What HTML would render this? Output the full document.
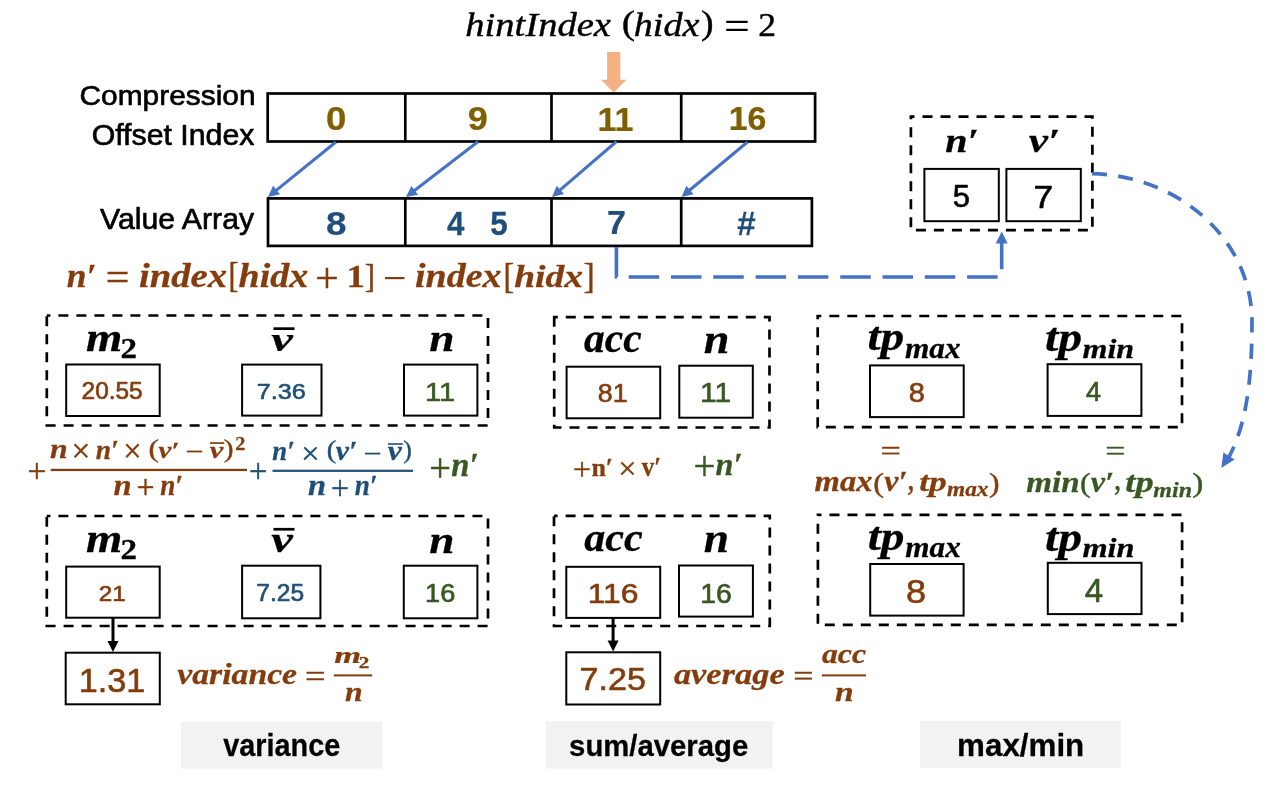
<!DOCTYPE html>
<html><head><meta charset="utf-8"><title>diagram</title>
<style>html,body{margin:0;padding:0;background:#fff;}body{width:1269px;height:800px;overflow:hidden;font-family:"Liberation Sans",sans-serif;}svg{display:block;will-change:transform;}</style>
</head><body>
<svg width="1269" height="800" viewBox="0 0 1269 800">
<text font-family="'Liberation Serif', serif" font-style="italic" stroke="#000000" stroke-width="1.252" stroke-linejoin="round" font-size="100" fill="#000000" transform="matrix(0.38594 0 0 0.33309 465.27 35.67)">hintIndex</text>
<text font-family="'Liberation Serif', serif" stroke="#000000" stroke-width="1.222" stroke-linejoin="round" font-size="100" fill="#000000" transform="matrix(0.39804 0 0 0.33833 621.73 33.67)">(</text>
<text font-family="'Liberation Serif', serif" font-style="italic" stroke="#000000" stroke-width="1.260" stroke-linejoin="round" font-size="100" fill="#000000" transform="matrix(0.38125 0 0 0.33309 633.79 35.77)">hidx</text>
<text font-family="'Liberation Serif', serif" stroke="#000000" stroke-width="1.255" stroke-linejoin="round" font-size="100" fill="#000000" transform="matrix(0.37885 0 0 0.33833 700.99 33.67)">)</text>
<text font-family="'Liberation Serif', serif" stroke="#000000" stroke-width="1.093" stroke-linejoin="round" font-size="100" fill="#000000" transform="matrix(0.44624 0 0 0.37755 724.19 38.80)">=</text>
<text font-family="'Liberation Serif', serif" stroke="#000000" stroke-width="1.295" stroke-linejoin="round" font-size="100" fill="#000000" transform="matrix(0.35625 0 0 0.33864 758.32 35.98)">2</text>
<polygon points="607.1,51.9 620.3,51.9 620.3,79.7 626.5,79.7 613.7,92.5 601,79.7 607.1,79.7" fill="#F4B183"/>
<text font-family="'Liberation Sans', sans-serif" stroke="#000000" stroke-width="2.227" stroke-linejoin="round" font-size="100" fill="#000000" transform="matrix(0.29879 0 0 0.28500 79.53 104.58)">Compression</text>
<text font-family="'Liberation Sans', sans-serif" stroke="#000000" stroke-width="2.169" stroke-linejoin="round" font-size="100" fill="#000000" transform="matrix(0.30301 0 0 0.29643 91.66 144.78)">Offset Index</text>
<text font-family="'Liberation Sans', sans-serif" stroke="#000000" stroke-width="2.143" stroke-linejoin="round" font-size="100" fill="#000000" transform="matrix(0.30236 0 0 0.30438 100.07 228.98)">Value Array</text>
<rect x="267.70" y="93.50" width="547.40" height="48.00" fill="none" stroke="#000000" stroke-width="2.70"/>
<line x1="405.30" y1="93.50" x2="405.30" y2="141.50" stroke="#000000" stroke-width="2.70"/>
<line x1="551.50" y1="93.50" x2="551.50" y2="141.50" stroke="#000000" stroke-width="2.70"/>
<line x1="681.20" y1="93.50" x2="681.20" y2="141.50" stroke="#000000" stroke-width="2.70"/>
<rect x="268.00" y="198.40" width="543.90" height="47.50" fill="none" stroke="#000000" stroke-width="2.70"/>
<line x1="405.30" y1="198.40" x2="405.30" y2="245.90" stroke="#000000" stroke-width="2.70"/>
<line x1="551.50" y1="198.40" x2="551.50" y2="245.90" stroke="#000000" stroke-width="2.70"/>
<line x1="681.20" y1="198.40" x2="681.20" y2="245.90" stroke="#000000" stroke-width="2.70"/>
<text font-family="'Liberation Sans', sans-serif" font-weight="bold" stroke="#7F6000" stroke-width="0.712" stroke-linejoin="round" font-size="100" fill="#7F6000" transform="matrix(0.36526 0 0 0.33732 326.06 130.44)">0</text>
<text font-family="'Liberation Sans', sans-serif" font-weight="bold" stroke="#7F6000" stroke-width="0.729" stroke-linejoin="round" font-size="100" fill="#7F6000" transform="matrix(0.35979 0 0 0.32606 467.87 130.25)">9</text>
<text font-family="'Liberation Sans', sans-serif" font-weight="bold" stroke="#7F6000" stroke-width="0.737" stroke-linejoin="round" font-size="100" fill="#7F6000" transform="matrix(0.34041 0 0 0.33796 597.51 130.57)">11</text>
<text font-family="'Liberation Sans', sans-serif" font-weight="bold" stroke="#7F6000" stroke-width="0.753" stroke-linejoin="round" font-size="100" fill="#7F6000" transform="matrix(0.33812 0 0 0.32606 728.73 130.25)">16</text>
<text font-family="'Liberation Sans', sans-serif" font-weight="bold" stroke="#1F4E79" stroke-width="0.721" stroke-linejoin="round" font-size="100" fill="#1F4E79" transform="matrix(0.36869 0 0 0.32465 326.02 234.75)">8</text>
<text font-family="'Liberation Sans', sans-serif" font-weight="bold" stroke="#1F4E79" stroke-width="0.770" stroke-linejoin="round" font-size="100" fill="#1F4E79" transform="matrix(0.31308 0 0 0.33650 447.06 235.07)">4</text>
<text font-family="'Liberation Sans', sans-serif" font-weight="bold" stroke="#1F4E79" stroke-width="0.776" stroke-linejoin="round" font-size="100" fill="#1F4E79" transform="matrix(0.31300 0 0 0.33165 490.19 234.74)">5</text>
<text font-family="'Liberation Sans', sans-serif" font-weight="bold" stroke="#1F4E79" stroke-width="0.751" stroke-linejoin="round" font-size="100" fill="#1F4E79" transform="matrix(0.34086 0 0 0.32482 607.09 234.38)">7</text>
<text font-family="'Liberation Sans', sans-serif" font-weight="bold" stroke="#1F4E79" stroke-width="0.754" stroke-linejoin="round" font-size="100" fill="#1F4E79" transform="matrix(0.33048 0 0 0.33309 737.23 234.68)">#</text>
<line x1="335.90" y1="142.00" x2="273.13" y2="192.85" stroke="#4472C4" stroke-width="3.00"/>
<polygon points="268.00,197.00 273.09,185.80 280.01,194.35" fill="#4472C4"/>
<line x1="478.20" y1="141.50" x2="411.23" y2="192.98" stroke="#4472C4" stroke-width="3.00"/>
<polygon points="406.00,197.00 411.37,185.94 418.07,194.66" fill="#4472C4"/>
<line x1="616.50" y1="141.50" x2="557.00" y2="192.70" stroke="#4472C4" stroke-width="3.00"/>
<polygon points="552.00,197.00 556.75,185.66 563.93,193.99" fill="#4472C4"/>
<line x1="747.50" y1="142.00" x2="686.57" y2="192.77" stroke="#4472C4" stroke-width="3.00"/>
<polygon points="681.50,197.00 686.43,185.73 693.47,194.18" fill="#4472C4"/>
<text font-family="'Liberation Serif', serif" font-weight="bold" font-style="italic" stroke="#843C0C" stroke-width="0.864" stroke-linejoin="round" font-size="100" fill="#843C0C" transform="matrix(0.35425 0 0 0.34043 66.84 286.95)">n′</text>
<text font-family="'Liberation Serif', serif" stroke="#843C0C" stroke-width="1.097" stroke-linejoin="round" font-size="100" fill="#843C0C" transform="matrix(0.41828 0 0 0.40204 105.63 291.42)">=</text>
<text font-family="'Liberation Serif', serif" font-weight="bold" font-style="italic" stroke="#843C0C" stroke-width="0.829" stroke-linejoin="round" font-size="100" fill="#843C0C" transform="matrix(0.38700 0 0 0.33696 138.88 286.85)">index</text>
<text font-family="'Liberation Serif', serif" stroke="#843C0C" stroke-width="1.382" stroke-linejoin="round" font-size="100" fill="#843C0C" transform="matrix(0.30227 0 0 0.34880 228.56 287.47)">[</text>
<text font-family="'Liberation Serif', serif" font-weight="bold" font-style="italic" stroke="#843C0C" stroke-width="0.844" stroke-linejoin="round" font-size="100" fill="#843C0C" transform="matrix(0.38045 0 0 0.33043 238.49 286.85)">hidx</text>
<text font-family="'Liberation Serif', serif" stroke="#843C0C" stroke-width="1.070" stroke-linejoin="round" font-size="100" fill="#843C0C" transform="matrix(0.41613 0 0 0.42473 315.14 292.32)">+</text>
<text font-family="'Liberation Serif', serif" font-weight="bold" stroke="#843C0C" stroke-width="0.873" stroke-linejoin="round" font-size="100" fill="#843C0C" transform="matrix(0.36757 0 0 0.31970 346.41 287.45)">1</text>
<text font-family="'Liberation Serif', serif" stroke="#843C0C" stroke-width="1.388" stroke-linejoin="round" font-size="100" fill="#843C0C" transform="matrix(0.30444 0 0 0.34398 364.76 287.43)">]</text>
<rect x="385.10" y="277.00" width="19.30" height="2.20" fill="#843C0C"/>
<text font-family="'Liberation Serif', serif" font-weight="bold" font-style="italic" stroke="#843C0C" stroke-width="0.842" stroke-linejoin="round" font-size="100" fill="#843C0C" transform="matrix(0.37982 0 0 0.33261 415.00 286.65)">index</text>
<text font-family="'Liberation Serif', serif" stroke="#843C0C" stroke-width="1.347" stroke-linejoin="round" font-size="100" fill="#843C0C" transform="matrix(0.32045 0 0 0.34759 503.62 288.08)">[</text>
<text font-family="'Liberation Serif', serif" font-weight="bold" font-style="italic" stroke="#843C0C" stroke-width="0.856" stroke-linejoin="round" font-size="100" fill="#843C0C" transform="matrix(0.37486 0 0 0.32609 514.20 286.65)">hidx</text>
<text font-family="'Liberation Serif', serif" stroke="#843C0C" stroke-width="1.317" stroke-linejoin="round" font-size="100" fill="#843C0C" transform="matrix(0.33556 0 0 0.34759 583.45 288.08)">]</text>
<path d="M616.4,247 V277 H1001.7 V243" fill="none" stroke="#4472C4" stroke-width="3.6" stroke-dasharray="30.5 11.8"/>
<polygon points="1001.7,231.5 1007.7,243.5 995.7,243.5" fill="#4472C4"/>
<rect x="910.90" y="116.60" width="181.50" height="113.60" fill="none" stroke="#000" stroke-width="2.70" stroke-dasharray="10 8" stroke-dashoffset="6.4"/>
<rect x="924.40" y="168.90" width="74.40" height="52.30" fill="none" stroke="#000000" stroke-width="2.00"/>
<rect x="1006.40" y="168.90" width="74.40" height="52.30" fill="none" stroke="#000000" stroke-width="2.00"/>
<text font-family="'Liberation Serif', serif" font-weight="bold" font-style="italic" stroke="#000000" stroke-width="0.813" stroke-linejoin="round" font-size="100" fill="#000000" transform="matrix(0.40000 0 0 0.33830 945.15 151.65)">n′</text>
<text font-family="'Liberation Serif', serif" font-weight="bold" font-style="italic" stroke="#000000" stroke-width="0.769" stroke-linejoin="round" font-size="100" fill="#000000" transform="matrix(0.43459 0 0 0.34565 1028.72 151.65)">v′</text>
<text font-family="'Liberation Sans', sans-serif" stroke="#000000" stroke-width="2.076" stroke-linejoin="round" font-size="100" fill="#000000" transform="matrix(0.31053 0 0 0.31583 952.78 207.46)">5</text>
<text font-family="'Liberation Sans', sans-serif" stroke="#000000" stroke-width="1.952" stroke-linejoin="round" font-size="100" fill="#000000" transform="matrix(0.35275 0 0 0.31314 1033.46 207.78)">7</text>
<path d="M1092,173.6 C1180,176 1252,240 1252,322 C1252,390 1244,428 1229,457" fill="none" stroke="#4472C4" stroke-width="3.7" stroke-dasharray="15 11.3"/>
<polygon points="1221.3,467.9 1223.4,452.6 1234.6,459.5" fill="#4472C4"/>
<rect x="46.80" y="315.50" width="441.20" height="110.00" fill="none" stroke="#000" stroke-width="2.70" stroke-dasharray="10 8" stroke-dashoffset="6.4"/>
<rect x="46.80" y="516.00" width="441.20" height="110.00" fill="none" stroke="#000" stroke-width="2.70" stroke-dasharray="10 8" stroke-dashoffset="6.4"/>
<text font-family="'Liberation Serif', serif" font-weight="bold" font-style="italic" stroke="#000000" stroke-width="0.693" stroke-linejoin="round" font-size="100" fill="#000000" transform="matrix(0.46761 0 0 0.39787 85.91 351.05)">m</text>
<text font-family="'Liberation Serif', serif" font-weight="bold" stroke="#000000" stroke-width="0.954" stroke-linejoin="round" font-size="100" fill="#000000" transform="matrix(0.33012 0 0 0.29848 120.43 358.35)">2</text>
<text font-family="'Liberation Serif', serif" font-weight="bold" font-style="italic" stroke="#000000" stroke-width="0.727" stroke-linejoin="round" font-size="100" fill="#000000" transform="matrix(0.48636 0 0 0.33913 271.16 350.55)">v</text>
<rect x="273.50" y="327.30" width="21.00" height="2.70" fill="#000000"/>
<text font-family="'Liberation Serif', serif" font-weight="bold" font-style="italic" stroke="#000000" stroke-width="0.728" stroke-linejoin="round" font-size="100" fill="#000000" transform="matrix(0.45361 0 0 0.37021 429.24 351.25)">n</text>
<rect x="66.20" y="364.50" width="93.50" height="51.50" fill="none" stroke="#000000" stroke-width="2.00"/>
<rect x="242.10" y="364.60" width="79.40" height="51.00" fill="none" stroke="#000000" stroke-width="2.00"/>
<rect x="404.00" y="364.60" width="73.40" height="51.00" fill="none" stroke="#000000" stroke-width="2.00"/>
<text font-family="'Liberation Sans', sans-serif" stroke="#843C0C" stroke-width="2.740" stroke-linejoin="round" font-size="100" fill="#843C0C" transform="matrix(0.24419 0 0 0.23028 81.60 399.04)">20.55</text>
<text font-family="'Liberation Sans', sans-serif" stroke="#1F4E79" stroke-width="2.746" stroke-linejoin="round" font-size="100" fill="#1F4E79" transform="matrix(0.25162 0 0 0.22183 256.77 399.15)">7.36</text>
<text font-family="'Liberation Sans', sans-serif" stroke="#385723" stroke-width="2.373" stroke-linejoin="round" font-size="100" fill="#385723" transform="matrix(0.29016 0 0 0.25766 424.95 400.68)">11</text>
<text font-family="'Liberation Serif', serif" stroke="#843C0C" stroke-width="1.333" stroke-linejoin="round" font-size="100" fill="#843C0C" transform="matrix(0.33226 0 0 0.34301 27.56 482.21)">+</text>
<text font-family="'Liberation Serif', serif" font-weight="bold" font-style="italic" stroke="#843C0C" stroke-width="1.025" stroke-linejoin="round" font-size="100" fill="#843C0C" transform="matrix(0.31753 0 0 0.26809 50.11 458.45)">n</text>
<text font-family="'Liberation Serif', serif" stroke="#843C0C" stroke-width="1.365" stroke-linejoin="round" font-size="100" fill="#843C0C" transform="matrix(0.33210 0 0 0.32716 71.57 462.33)">×</text>
<text font-family="'Liberation Serif', serif" font-weight="bold" font-style="italic" stroke="#843C0C" stroke-width="1.093" stroke-linejoin="round" font-size="100" fill="#843C0C" transform="matrix(0.27451 0 0 0.27447 95.70 458.75)">n′</text>
<text font-family="'Liberation Serif', serif" stroke="#843C0C" stroke-width="1.381" stroke-linejoin="round" font-size="100" fill="#843C0C" transform="matrix(0.32469 0 0 0.32716 123.33 462.33)">×</text>
<text font-family="'Liberation Serif', serif" stroke="#843C0C" stroke-width="1.583" stroke-linejoin="round" font-size="100" fill="#843C0C" transform="matrix(0.31569 0 0 0.25278 148.50 457.27)">(</text>
<text font-family="'Liberation Serif', serif" font-weight="bold" font-style="italic" stroke="#843C0C" stroke-width="1.141" stroke-linejoin="round" font-size="100" fill="#843C0C" transform="matrix(0.28872 0 0 0.23696 158.46 458.25)">v′</text>
<rect x="186.80" y="450.60" width="15.40" height="1.80" fill="#843C0C"/>
<text font-family="'Liberation Serif', serif" font-weight="bold" font-style="italic" stroke="#843C0C" stroke-width="1.108" stroke-linejoin="round" font-size="100" fill="#843C0C" transform="matrix(0.30455 0 0 0.23696 209.85 458.25)">v</text>
<rect x="210.00" y="442.20" width="14.30" height="1.70" fill="#843C0C"/>
<text font-family="'Liberation Serif', serif" stroke="#843C0C" stroke-width="1.645" stroke-linejoin="round" font-size="100" fill="#843C0C" transform="matrix(0.29423 0 0 0.25278 223.84 457.27)">)</text>
<text font-family="'Liberation Serif', serif" font-weight="bold" stroke="#843C0C" stroke-width="1.555" stroke-linejoin="round" font-size="100" fill="#843C0C" transform="matrix(0.20241 0 0 0.18333 235.14 449.65)">2</text>
<rect x="50.70" y="468.80" width="196.30" height="2.30" fill="#843C0C"/>
<text font-family="'Liberation Serif', serif" font-weight="bold" font-style="italic" stroke="#843C0C" stroke-width="0.972" stroke-linejoin="round" font-size="100" fill="#843C0C" transform="matrix(0.32577 0 0 0.29149 113.50 494.95)">n</text>
<text font-family="'Liberation Serif', serif" stroke="#843C0C" stroke-width="1.381" stroke-linejoin="round" font-size="100" fill="#843C0C" transform="matrix(0.31935 0 0 0.33226 136.43 498.40)">+</text>
<text font-family="'Liberation Serif', serif" font-weight="bold" font-style="italic" stroke="#843C0C" stroke-width="1.065" stroke-linejoin="round" font-size="100" fill="#843C0C" transform="matrix(0.27190 0 0 0.29149 160.21 494.95)">n′</text>
<text font-family="'Liberation Serif', serif" stroke="#1F4E79" stroke-width="1.368" stroke-linejoin="round" font-size="100" fill="#1F4E79" transform="matrix(0.32366 0 0 0.33441 248.91 482.22)">+</text>
<text font-family="'Liberation Serif', serif" font-weight="bold" font-style="italic" stroke="#1F4E79" stroke-width="1.109" stroke-linejoin="round" font-size="100" fill="#1F4E79" transform="matrix(0.26667 0 0 0.27447 272.32 459.65)">n′</text>
<text font-family="'Liberation Serif', serif" stroke="#1F4E79" stroke-width="1.386" stroke-linejoin="round" font-size="100" fill="#1F4E79" transform="matrix(0.32469 0 0 0.32469 301.13 463.80)">×</text>
<text font-family="'Liberation Serif', serif" stroke="#1F4E79" stroke-width="1.704" stroke-linejoin="round" font-size="100" fill="#1F4E79" transform="matrix(0.28431 0 0 0.24389 326.65 457.95)">(</text>
<text font-family="'Liberation Serif', serif" font-weight="bold" font-style="italic" stroke="#1F4E79" stroke-width="1.073" stroke-linejoin="round" font-size="100" fill="#1F4E79" transform="matrix(0.29624 0 0 0.26304 335.85 459.65)">v′</text>
<rect x="364.90" y="452.70" width="15.40" height="1.80" fill="#1F4E79"/>
<text font-family="'Liberation Serif', serif" font-weight="bold" font-style="italic" stroke="#1F4E79" stroke-width="1.036" stroke-linejoin="round" font-size="100" fill="#1F4E79" transform="matrix(0.31591 0 0 0.26304 387.83 459.65)">v</text>
<rect x="388.00" y="443.20" width="14.80" height="1.60" fill="#1F4E79"/>
<text font-family="'Liberation Serif', serif" stroke="#1F4E79" stroke-width="1.801" stroke-linejoin="round" font-size="100" fill="#1F4E79" transform="matrix(0.25577 0 0 0.24389 403.36 457.95)">)</text>
<rect x="272.50" y="469.70" width="140.50" height="2.20" fill="#1F4E79"/>
<text font-family="'Liberation Serif', serif" font-weight="bold" font-style="italic" stroke="#1F4E79" stroke-width="0.972" stroke-linejoin="round" font-size="100" fill="#1F4E79" transform="matrix(0.32577 0 0 0.29149 308.00 495.05)">n</text>
<text font-family="'Liberation Serif', serif" stroke="#1F4E79" stroke-width="1.381" stroke-linejoin="round" font-size="100" fill="#1F4E79" transform="matrix(0.31935 0 0 0.33226 330.93 498.50)">+</text>
<text font-family="'Liberation Serif', serif" font-weight="bold" font-style="italic" stroke="#1F4E79" stroke-width="1.065" stroke-linejoin="round" font-size="100" fill="#1F4E79" transform="matrix(0.27190 0 0 0.29149 354.71 495.05)">n′</text>
<text font-family="'Liberation Serif', serif" stroke="#385723" stroke-width="1.143" stroke-linejoin="round" font-size="100" fill="#385723" transform="matrix(0.38387 0 0 0.40323 429.31 480.71)">+</text>
<text font-family="'Liberation Serif', serif" font-weight="bold" font-style="italic" stroke="#385723" stroke-width="0.914" stroke-linejoin="round" font-size="100" fill="#385723" transform="matrix(0.32680 0 0 0.32979 451.30 476.15)">n′</text>
<text font-family="'Liberation Serif', serif" font-weight="bold" font-style="italic" stroke="#000000" stroke-width="0.693" stroke-linejoin="round" font-size="100" fill="#000000" transform="matrix(0.46761 0 0 0.39787 85.91 552.05)">m</text>
<text font-family="'Liberation Serif', serif" font-weight="bold" stroke="#000000" stroke-width="0.954" stroke-linejoin="round" font-size="100" fill="#000000" transform="matrix(0.33012 0 0 0.29848 120.43 559.35)">2</text>
<text font-family="'Liberation Serif', serif" font-weight="bold" font-style="italic" stroke="#000000" stroke-width="0.716" stroke-linejoin="round" font-size="100" fill="#000000" transform="matrix(0.48636 0 0 0.35217 271.16 552.35)">v</text>
<rect x="273.50" y="527.90" width="21.00" height="2.70" fill="#000000"/>
<text font-family="'Liberation Serif', serif" font-weight="bold" font-style="italic" stroke="#000000" stroke-width="0.726" stroke-linejoin="round" font-size="100" fill="#000000" transform="matrix(0.45361 0 0 0.37234 429.24 552.85)">n</text>
<rect x="66.20" y="566.60" width="93.50" height="51.10" fill="none" stroke="#000000" stroke-width="2.00"/>
<rect x="242.10" y="565.70" width="78.30" height="52.60" fill="none" stroke="#000000" stroke-width="2.00"/>
<rect x="403.80" y="565.70" width="73.60" height="52.60" fill="none" stroke="#000000" stroke-width="2.00"/>
<text font-family="'Liberation Sans', sans-serif" stroke="#843C0C" stroke-width="2.762" stroke-linejoin="round" font-size="100" fill="#843C0C" transform="matrix(0.24286 0 0 0.22786 98.81 601.07)">21</text>
<text font-family="'Liberation Sans', sans-serif" stroke="#1F4E79" stroke-width="2.732" stroke-linejoin="round" font-size="100" fill="#1F4E79" transform="matrix(0.24555 0 0 0.23028 256.30 601.34)">7.25</text>
<text font-family="'Liberation Sans', sans-serif" stroke="#385723" stroke-width="2.438" stroke-linejoin="round" font-size="100" fill="#385723" transform="matrix(0.27186 0 0 0.26127 425.09 602.41)">16</text>
<line x1="113.00" y1="618.00" x2="113.00" y2="645.40" stroke="#000000" stroke-width="3.00"/>
<polygon points="113.00,652.00 107.50,641.00 118.50,641.00" fill="#000000"/>
<rect x="65.70" y="652.70" width="94.10" height="51.60" fill="none" stroke="#000000" stroke-width="2.00"/>
<text font-family="'Liberation Sans', sans-serif" stroke="#843C0C" stroke-width="1.926" stroke-linejoin="round" font-size="100" fill="#843C0C" transform="matrix(0.34203 0 0 0.33310 78.66 691.54)">1.31</text>
<text font-family="'Liberation Serif', serif" font-weight="bold" font-style="italic" stroke="#843C0C" stroke-width="0.941" stroke-linejoin="round" font-size="100" fill="#843C0C" transform="matrix(0.33730 0 0 0.30000 177.21 683.75)">variance</text>
<text font-family="'Liberation Serif', serif" stroke="#843C0C" stroke-width="1.322" stroke-linejoin="round" font-size="100" fill="#843C0C" transform="matrix(0.36452 0 0 0.31633 304.90 686.92)">=</text>
<text font-family="'Liberation Serif', serif" font-weight="bold" font-style="italic" stroke="#843C0C" stroke-width="1.025" stroke-linejoin="round" font-size="100" fill="#843C0C" transform="matrix(0.34507 0 0 0.24043 334.16 663.05)">m</text>
<text font-family="'Liberation Serif', serif" font-weight="bold" stroke="#843C0C" stroke-width="1.566" stroke-linejoin="round" font-size="100" fill="#843C0C" transform="matrix(0.21205 0 0 0.17121 358.80 667.95)">2</text>
<rect x="333.80" y="674.40" width="38.40" height="2.00" fill="#843C0C"/>
<text font-family="'Liberation Serif', serif" font-weight="bold" font-style="italic" stroke="#843C0C" stroke-width="1.014" stroke-linejoin="round" font-size="100" fill="#843C0C" transform="matrix(0.31753 0 0 0.27447 344.91 701.05)">n</text>
<rect x="181.00" y="721.70" width="201.30" height="46.90" fill="#F2F2F2"/>
<text font-family="'Liberation Sans', sans-serif" font-weight="bold" stroke="#000000" stroke-width="0.829" stroke-linejoin="round" font-size="100" fill="#000000" transform="matrix(0.28868 0 0 0.31415 223.18 756.08)">variance</text>
<rect x="554.20" y="317.20" width="215.30" height="110.30" fill="none" stroke="#000" stroke-width="2.70" stroke-dasharray="10 8" stroke-dashoffset="6.4"/>
<text font-family="'Liberation Serif', serif" font-weight="bold" font-style="italic" stroke="#000000" stroke-width="0.725" stroke-linejoin="round" font-size="100" fill="#000000" transform="matrix(0.41471 0 0 0.41277 584.04 352.15)">acc</text>
<text font-family="'Liberation Serif', serif" font-weight="bold" font-style="italic" stroke="#000000" stroke-width="0.686" stroke-linejoin="round" font-size="100" fill="#000000" transform="matrix(0.46186 0 0 0.41277 703.73 353.15)">n</text>
<rect x="566.60" y="366.70" width="93.60" height="51.60" fill="none" stroke="#000000" stroke-width="2.00"/>
<rect x="679.30" y="365.70" width="73.50" height="52.00" fill="none" stroke="#000000" stroke-width="2.00"/>
<text font-family="'Liberation Sans', sans-serif" stroke="#843C0C" stroke-width="2.489" stroke-linejoin="round" font-size="100" fill="#843C0C" transform="matrix(0.26814 0 0 0.25423 597.82 401.92)">81</text>
<text font-family="'Liberation Sans', sans-serif" stroke="#385723" stroke-width="2.272" stroke-linejoin="round" font-size="100" fill="#385723" transform="matrix(0.30000 0 0 0.27226 700.08 401.78)">11</text>
<text font-family="'Liberation Serif', serif" stroke="#843C0C" stroke-width="1.400" stroke-linejoin="round" font-size="100" fill="#843C0C" transform="matrix(0.31935 0 0 0.32366 572.93 479.61)">+</text>
<text font-family="'Liberation Serif', serif" font-weight="bold" stroke="#843C0C" stroke-width="1.157" stroke-linejoin="round" font-size="100" fill="#843C0C" transform="matrix(0.25906 0 0 0.25957 591.40 475.85)">n′</text>
<text font-family="'Liberation Serif', serif" stroke="#843C0C" stroke-width="1.424" stroke-linejoin="round" font-size="100" fill="#843C0C" transform="matrix(0.32222 0 0 0.30988 618.15 479.20)">×</text>
<text font-family="'Liberation Serif', serif" font-weight="bold" stroke="#843C0C" stroke-width="1.160" stroke-linejoin="round" font-size="100" fill="#843C0C" transform="matrix(0.24755 0 0 0.26957 641.85 476.05)">v′</text>
<text font-family="'Liberation Serif', serif" stroke="#385723" stroke-width="1.101" stroke-linejoin="round" font-size="100" fill="#385723" transform="matrix(0.38817 0 0 0.42903 693.48 480.27)">+</text>
<text font-family="'Liberation Serif', serif" font-weight="bold" font-style="italic" stroke="#385723" stroke-width="0.944" stroke-linejoin="round" font-size="100" fill="#385723" transform="matrix(0.32288 0 0 0.31277 715.50 475.35)">n′</text>
<rect x="554.00" y="515.80" width="215.80" height="110.20" fill="none" stroke="#000" stroke-width="2.70" stroke-dasharray="10 8" stroke-dashoffset="6.4"/>
<text font-family="'Liberation Serif', serif" font-weight="bold" font-style="italic" stroke="#000000" stroke-width="0.725" stroke-linejoin="round" font-size="100" fill="#000000" transform="matrix(0.42132 0 0 0.40638 584.13 551.05)">acc</text>
<text font-family="'Liberation Serif', serif" font-weight="bold" font-style="italic" stroke="#000000" stroke-width="0.699" stroke-linejoin="round" font-size="100" fill="#000000" transform="matrix(0.45361 0 0 0.40426 703.74 552.15)">n</text>
<rect x="566.30" y="566.80" width="93.90" height="51.10" fill="none" stroke="#000000" stroke-width="2.00"/>
<rect x="679.00" y="565.50" width="73.90" height="51.10" fill="none" stroke="#000000" stroke-width="2.00"/>
<text font-family="'Liberation Sans', sans-serif" stroke="#843C0C" stroke-width="2.154" stroke-linejoin="round" font-size="100" fill="#843C0C" transform="matrix(0.31831 0 0 0.28521 587.64 603.29)">116</text>
<text font-family="'Liberation Sans', sans-serif" stroke="#385723" stroke-width="2.284" stroke-linejoin="round" font-size="100" fill="#385723" transform="matrix(0.28392 0 0 0.28521 700.20 603.29)">16</text>
<line x1="613.10" y1="618.00" x2="613.10" y2="644.90" stroke="#000000" stroke-width="3.00"/>
<polygon points="613.10,651.50 607.60,640.50 618.60,640.50" fill="#000000"/>
<rect x="566.30" y="652.30" width="93.90" height="52.20" fill="none" stroke="#000000" stroke-width="2.00"/>
<text font-family="'Liberation Sans', sans-serif" stroke="#843C0C" stroke-width="1.966" stroke-linejoin="round" font-size="100" fill="#843C0C" transform="matrix(0.34097 0 0 0.32042 579.52 690.35)">7.25</text>
<text font-family="'Liberation Serif', serif" font-weight="bold" font-style="italic" stroke="#843C0C" stroke-width="0.941" stroke-linejoin="round" font-size="100" fill="#843C0C" transform="matrix(0.34389 0 0 0.29362 673.91 683.75)">average</text>
<text font-family="'Liberation Serif', serif" stroke="#843C0C" stroke-width="1.376" stroke-linejoin="round" font-size="100" fill="#843C0C" transform="matrix(0.35806 0 0 0.29592 793.33 685.99)">=</text>
<text font-family="'Liberation Serif', serif" font-weight="bold" font-style="italic" stroke="#843C0C" stroke-width="1.026" stroke-linejoin="round" font-size="100" fill="#843C0C" transform="matrix(0.31691 0 0 0.26809 822.03 662.65)">acc</text>
<rect x="821.90" y="674.40" width="44.10" height="2.00" fill="#843C0C"/>
<text font-family="'Liberation Serif', serif" font-weight="bold" font-style="italic" stroke="#843C0C" stroke-width="0.969" stroke-linejoin="round" font-size="100" fill="#843C0C" transform="matrix(0.33608 0 0 0.28298 834.88 701.45)">n</text>
<rect x="546.00" y="721.00" width="226.60" height="47.50" fill="#F2F2F2"/>
<text font-family="'Liberation Sans', sans-serif" font-weight="bold" stroke="#000000" stroke-width="0.850" stroke-linejoin="round" font-size="100" fill="#000000" transform="matrix(0.29305 0 0 0.29528 569.10 755.58)">sum/average</text>
<rect x="817.70" y="316.00" width="364.30" height="111.10" fill="none" stroke="#000" stroke-width="2.70" stroke-dasharray="10 8" stroke-dashoffset="6.4"/>
<text font-family="'Liberation Serif', serif" font-weight="bold" font-style="italic" stroke="#000000" stroke-width="0.688" stroke-linejoin="round" font-size="100" fill="#000000" transform="matrix(0.47413 0 0 0.39783 867.43 350.15)">tp</text>
<text font-family="'Liberation Serif', serif" font-weight="bold" font-style="italic" stroke="#000000" stroke-width="1.004" stroke-linejoin="round" font-size="100" fill="#000000" transform="matrix(0.31297 0 0 0.28478 905.02 357.55)">max</text>
<text font-family="'Liberation Serif', serif" font-weight="bold" font-style="italic" stroke="#000000" stroke-width="0.685" stroke-linejoin="round" font-size="100" fill="#000000" transform="matrix(0.47832 0 0 0.39783 1044.92 351.25)">tp</text>
<text font-family="'Liberation Serif', serif" font-weight="bold" font-style="italic" stroke="#000000" stroke-width="1.005" stroke-linejoin="round" font-size="100" fill="#000000" transform="matrix(0.32104 0 0 0.27609 1082.41 357.95)">min</text>
<rect x="870.00" y="365.40" width="93.70" height="51.70" fill="none" stroke="#000000" stroke-width="2.00"/>
<rect x="1047.60" y="364.20" width="93.80" height="51.70" fill="none" stroke="#000000" stroke-width="2.00"/>
<text font-family="'Liberation Sans', sans-serif" stroke="#843C0C" stroke-width="2.292" stroke-linejoin="round" font-size="100" fill="#843C0C" transform="matrix(0.29043 0 0 0.27676 908.82 401.90)">8</text>
<text font-family="'Liberation Sans', sans-serif" stroke="#385723" stroke-width="2.355" stroke-linejoin="round" font-size="100" fill="#385723" transform="matrix(0.27100 0 0 0.28102 1085.95 400.68)">4</text>
<text font-family="'Liberation Serif', serif" stroke="#843C0C" stroke-width="1.393" stroke-linejoin="round" font-size="100" fill="#843C0C" transform="matrix(0.36237 0 0 0.28367 880.41 461.33)">=</text>
<text font-family="'Liberation Serif', serif" stroke="#385723" stroke-width="1.439" stroke-linejoin="round" font-size="100" fill="#385723" transform="matrix(0.35806 0 0 0.26735 1105.23 460.39)">=</text>
<text font-family="'Liberation Serif', serif" font-weight="bold" font-style="italic" stroke="#843C0C" stroke-width="0.959" stroke-linejoin="round" font-size="100" fill="#843C0C" transform="matrix(0.32565 0 0 0.30000 814.60 491.45)">max</text>
<text font-family="'Liberation Serif', serif" stroke="#843C0C" stroke-width="1.501" stroke-linejoin="round" font-size="100" fill="#843C0C" transform="matrix(0.32353 0 0 0.27611 873.37 491.58)">(</text>
<text font-family="'Liberation Serif', serif" font-weight="bold" font-style="italic" stroke="#843C0C" stroke-width="0.970" stroke-linejoin="round" font-size="100" fill="#843C0C" transform="matrix(0.31880 0 0 0.30000 884.33 491.45)">v′</text>
<text font-family="'Liberation Serif', serif" stroke="#843C0C" stroke-width="1.408" stroke-linejoin="round" font-size="100" fill="#843C0C" transform="matrix(0.29310 0 0 0.34600 907.35 489.79)">,</text>
<text font-family="'Liberation Serif', serif" font-weight="bold" font-style="italic" stroke="#843C0C" stroke-width="0.952" stroke-linejoin="round" font-size="100" fill="#843C0C" transform="matrix(0.35385 0 0 0.27609 919.19 491.05)">tp</text>
<text font-family="'Liberation Serif', serif" font-weight="bold" font-style="italic" stroke="#843C0C" stroke-width="1.350" stroke-linejoin="round" font-size="100" fill="#843C0C" transform="matrix(0.23343 0 0 0.21087 946.98 496.35)">max</text>
<text font-family="'Liberation Serif', serif" stroke="#843C0C" stroke-width="1.517" stroke-linejoin="round" font-size="100" fill="#843C0C" transform="matrix(0.31731 0 0 0.27611 989.07 491.58)">)</text>
<text font-family="'Liberation Serif', serif" font-weight="bold" font-style="italic" stroke="#385723" stroke-width="0.946" stroke-linejoin="round" font-size="100" fill="#385723" transform="matrix(0.33204 0 0 0.30217 1026.19 492.25)">min</text>
<text font-family="'Liberation Serif', serif" stroke="#385723" stroke-width="1.525" stroke-linejoin="round" font-size="100" fill="#385723" transform="matrix(0.31961 0 0 0.27056 1079.89 491.99)">(</text>
<text font-family="'Liberation Serif', serif" font-weight="bold" font-style="italic" stroke="#385723" stroke-width="0.989" stroke-linejoin="round" font-size="100" fill="#385723" transform="matrix(0.32180 0 0 0.28478 1090.73 492.25)">v′</text>
<text font-family="'Liberation Serif', serif" stroke="#385723" stroke-width="1.461" stroke-linejoin="round" font-size="100" fill="#385723" transform="matrix(0.28621 0 0 0.33000 1113.98 490.43)">,</text>
<text font-family="'Liberation Serif', serif" font-weight="bold" font-style="italic" stroke="#385723" stroke-width="0.923" stroke-linejoin="round" font-size="100" fill="#385723" transform="matrix(0.36503 0 0 0.28478 1125.25 492.25)">tp</text>
<text font-family="'Liberation Serif', serif" font-weight="bold" font-style="italic" stroke="#385723" stroke-width="1.361" stroke-linejoin="round" font-size="100" fill="#385723" transform="matrix(0.24078 0 0 0.20000 1153.37 497.05)">min</text>
<text font-family="'Liberation Serif', serif" stroke="#385723" stroke-width="1.492" stroke-linejoin="round" font-size="100" fill="#385723" transform="matrix(0.33269 0 0 0.27056 1192.33 491.99)">)</text>
<rect x="817.90" y="514.80" width="364.20" height="110.10" fill="none" stroke="#000" stroke-width="2.70" stroke-dasharray="10 8" stroke-dashoffset="6.4"/>
<text font-family="'Liberation Serif', serif" font-weight="bold" font-style="italic" stroke="#000000" stroke-width="0.688" stroke-linejoin="round" font-size="100" fill="#000000" transform="matrix(0.47413 0 0 0.39783 867.63 549.65)">tp</text>
<text font-family="'Liberation Serif', serif" font-weight="bold" font-style="italic" stroke="#000000" stroke-width="1.005" stroke-linejoin="round" font-size="100" fill="#000000" transform="matrix(0.31239 0 0 0.28478 905.23 557.05)">max</text>
<text font-family="'Liberation Serif', serif" font-weight="bold" font-style="italic" stroke="#000000" stroke-width="0.685" stroke-linejoin="round" font-size="100" fill="#000000" transform="matrix(0.47832 0 0 0.39783 1044.92 550.75)">tp</text>
<text font-family="'Liberation Serif', serif" font-weight="bold" font-style="italic" stroke="#000000" stroke-width="1.000" stroke-linejoin="round" font-size="100" fill="#000000" transform="matrix(0.32362 0 0 0.27609 1082.40 557.45)">min</text>
<rect x="870.20" y="564.00" width="93.40" height="51.60" fill="none" stroke="#000000" stroke-width="2.00"/>
<rect x="1047.80" y="562.80" width="93.70" height="51.30" fill="none" stroke="#000000" stroke-width="2.00"/>
<text font-family="'Liberation Sans', sans-serif" stroke="#843C0C" stroke-width="1.866" stroke-linejoin="round" font-size="100" fill="#843C0C" transform="matrix(0.36064 0 0 0.33592 906.00 602.64)">8</text>
<text font-family="'Liberation Sans', sans-serif" stroke="#385723" stroke-width="1.939" stroke-linejoin="round" font-size="100" fill="#385723" transform="matrix(0.33100 0 0 0.33942 1084.80 602.38)">4</text>
<rect x="920.20" y="720.80" width="200.70" height="47.20" fill="#F2F2F2"/>
<text font-family="'Liberation Sans', sans-serif" font-weight="bold" stroke="#000000" stroke-width="0.792" stroke-linejoin="round" font-size="100" fill="#000000" transform="matrix(0.31361 0 0 0.31792 957.09 755.67)">max/min</text>
</svg>
</body></html>
